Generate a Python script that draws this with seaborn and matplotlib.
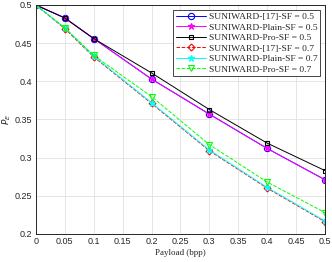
import numpy as np
import pandas as pd
import matplotlib
matplotlib.use("Agg")
import matplotlib.pyplot as plt
import seaborn as sns

payload = [0, 0.05, 0.1, 0.2, 0.3, 0.4, 0.5]
ref17_05 = [0.5, 0.483, 0.456, 0.403, 0.357, 0.312, 0.271]
plain_05 = [0.5, 0.483, 0.456, 0.403, 0.357, 0.312, 0.271]
pro_05 = [0.5, 0.483, 0.456, 0.411, 0.363, 0.319, 0.283]
ref17_07 = [0.5, 0.469, 0.432, 0.371, 0.309, 0.260, 0.216]
plain_07 = [0.5, 0.470, 0.433, 0.372, 0.310, 0.261, 0.217]
pro_07 = [0.5, 0.470, 0.434, 0.380, 0.317, 0.268, 0.228]

labels = ["SUNIWARD-[17]-SF = 0.5", "SUNIWARD-Plain-SF = 0.5", "SUNIWARD-Pro-SF = 0.5",
          "SUNIWARD-[17]-SF = 0.7", "SUNIWARD-Plain-SF = 0.7", "SUNIWARD-Pro-SF = 0.7"]
series = [ref17_05, plain_05, pro_05, ref17_07, plain_07, pro_07]
colors = ["#0000ff", "#ff00ff", "#000000", "#ff0000", "#00ffff", "#00ff00"]
markers = ["o", "*", "s", "D", "*", "v"]
dashes = ["-", "-", "-", "--", "-", "--"]
filled = [False, True, False, False, True, False]
msizes = [4.5, 5, 3.5, 3.5, 5, 5]

sns.set_style("white")
plt.rcParams["font.family"] = ["Liberation Sans", "DejaVu Sans"]

fig = plt.figure(figsize=(3.32, 2.62), dpi=100)
ax = fig.add_axes([0.108, 0.107, 0.871, 0.874])

for vals, lab, c, m, ls, f, ms in zip(series, labels, colors, markers, dashes, filled, msizes):
    df = pd.DataFrame({"x": payload, "y": vals})
    sns.lineplot(data=df, x="x", y="y", ax=ax, color=c, marker=m, linestyle=ls,
                 linewidth=0.7, markersize=ms, markeredgecolor=c,
                 markerfacecolor=c if f else "none", markeredgewidth=0.8, label=lab)

ax.set_xlim(0, 0.5)
ax.set_ylim(0.2, 0.5)
ax.set_xticks(np.arange(0, 0.51, 0.05))
ax.set_xticklabels(["0", "0.05", "0.1", "0.15", "0.2", "0.25", "0.3", "0.35", "0.4", "0.45", "0.5"])
ax.set_yticks(np.arange(0.2, 0.51, 0.05))
ax.set_yticklabels(["0.2", "0.25", "0.3", "0.35", "0.4", "0.45", "0.5"])
ax.tick_params(labelsize=6.5, length=2, direction="in", pad=2.5, colors="#262626")
ax.grid(True, color="#e0e0e0", linewidth=0.6)
for s in ax.spines.values():
    s.set_color("#262626")
    s.set_linewidth(0.7)

ax.set_xlabel("Payload (bpp)", fontsize=6.5, family="Liberation Serif", labelpad=2)
ax.set_ylabel(r"$\overline{P}_E$", fontsize=6.5)
ax.yaxis.set_label_coords(-0.08, 0.5)

leg = ax.legend(loc="upper right", prop={"family": "Liberation Serif", "size": 6.8},
                frameon=True, fancybox=False, edgecolor="#262626", framealpha=1,
                borderpad=0.3, labelspacing=0.2, handlelength=3.2, handletextpad=0.3,
                borderaxespad=0.5)
leg.get_frame().set_linewidth(0.6)

fig.savefig("out.png", dpi=100)
